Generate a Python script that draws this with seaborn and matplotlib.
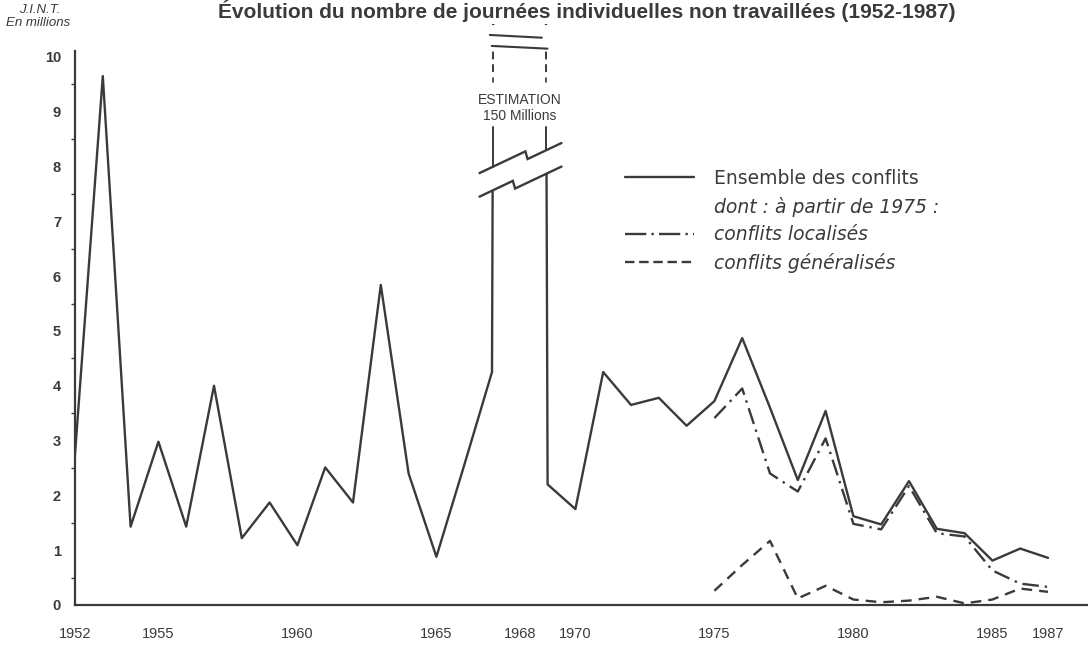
import numpy as np
import pandas as pd
import matplotlib
matplotlib.use("Agg")
import matplotlib.pyplot as plt
import seaborn as sns
from matplotlib.lines import Line2D
from matplotlib.patches import Polygon
from matplotlib.ticker import FixedLocator

# ---------------- data ----------------
years_total = list(range(1952, 1988))
ensemble = [2.75, 9.65, 1.43, 2.98, 1.43, 4.0, 1.22, 1.87, 1.09, 2.51, 1.87, 5.84,
            2.4, 0.88, 2.55, 4.25, 150.0, 2.2, 1.75, 4.25, 3.65, 3.78, 3.27, 3.72,
            4.87, 3.6, 2.28, 3.54, 1.62, 1.47, 2.26, 1.39, 1.31, 0.81, 1.03, 0.86]

years_detail = list(range(1975, 1988))
localises = [3.41, 3.95, 2.40, 2.07, 3.04, 1.48, 1.38, 2.17, 1.31, 1.25, 0.63, 0.39, 0.33]
generalises = [0.26, 0.73, 1.17, 0.12, 0.35, 0.10, 0.05, 0.08, 0.15, 0.03, 0.10, 0.30, 0.24]

xtick_years = [1952, 1955, 1960, 1965, 1968, 1970, 1975, 1980, 1985, 1987]
ytick_values = list(range(0, 11))

title = "Évolution du nombre de journées individuelles non travaillées (1952-1987)"
unit_lines = ["J.I.N.T.", "En millions"]
legend_labels = ["Ensemble des conflits", "dont : à partir de 1975 :",
                 "conflits localisés", "conflits généralisés"]
estimation_text = ["ESTIMATION", "150 Millions"]

# ---------------- style ----------------
sns.set_theme(style="white")
plt.rcParams["font.family"] = ["Liberation Sans", "DejaVu Sans"]
INK = "#3a3a36"
LW = 1.7
DASHDOT = (0, (7, 2.5, 1, 2.5))
DASHED = (0, (4.5, 3))

W, H = 1088, 651
fig = plt.figure(figsize=(W / 100, H / 100), dpi=100, facecolor="white")
left_px, bottom_px, top_px = 75, 605, 24
ax = fig.add_axes([left_px / W, (H - bottom_px) / H, 1 - left_px / W, (bottom_px - top_px) / H])
ax.set_facecolor("white")

px_per_year = 27.8
ax.set_xlim(1952, 1952 + (W - left_px) / px_per_year)
ax.set_ylim(0, 10.6)

sns.lineplot(x=years_total, y=ensemble, ax=ax, color=INK, lw=LW, zorder=2)
sns.lineplot(x=years_detail, y=localises, ax=ax, color=INK, lw=LW, linestyle=DASHDOT, zorder=2)
sns.lineplot(x=years_detail, y=generalises, ax=ax, color=INK, lw=LW, linestyle=DASHED, zorder=2)

# ---------------- axes ----------------
for s in ["top", "right"]:
    ax.spines[s].set_visible(False)
for s in ["left", "bottom"]:
    ax.spines[s].set_color(INK)
    ax.spines[s].set_linewidth(1.6)
ax.spines["left"].set_bounds(0, 10.1)

ax.set_xticks(xtick_years)
ax.set_xticklabels([str(y) for y in xtick_years], fontsize=10.5, color=INK)
ax.set_yticks(ytick_values)
ax.set_yticklabels([str(v) for v in ytick_values], fontsize=10.5, color=INK, fontweight="bold")
ax.yaxis.set_minor_locator(FixedLocator([v + 0.5 for v in ytick_values[:-1]]))
ax.tick_params(axis="x", direction="out", length=15, width=1.4, color=INK, pad=1)
ax.tick_params(axis="y", which="major", direction="out", length=7, width=1.4, color=INK, pad=3)
ax.tick_params(axis="y", which="minor", direction="out", length=3, width=1.0, color=INK, left=True)
ax.set_xlabel("")
ax.set_ylabel("")
ax.grid(False)

# ---------------- 1968 off-scale spike (broken axis decoration) ----------------
i68 = years_total.index(1968)
def _interp_x(y, p, q):
    (x0, y0), (x1, y1) = p, q
    return x0 + (y - y0) * (x1 - x0) / (y1 - y0)
p_prev = (years_total[i68 - 1], ensemble[i68 - 1])
p_peak = (years_total[i68], ensemble[i68])
p_next = (years_total[i68 + 1], ensemble[i68 + 1])
xl = lambda y: _interp_x(y, p_prev, p_peak)
xr = lambda y: _interp_x(y, p_peak, p_next)

xa, xb = 1966.55, 1969.5
slope = 0.24
def zig(y0, xn, drop=0.14):
    pts = [(xa, y0), (xn, y0 + slope * (xn - xa)), (xn + 0.08, y0 + slope * (xn - xa) - drop)]
    pts.append((xb, pts[-1][1] + slope * (xb - pts[-1][0])))
    return pts
lower = zig(7.45, 1967.75)
upper = zig(7.88, 1968.2)
band = Polygon(upper + lower[::-1], closed=True, facecolor="white", edgecolor="none", zorder=3)
ax.add_patch(band)
cover = Polygon(upper + [(xb, 10.58), (xa, 10.58)], closed=True, facecolor="white", edgecolor="none", zorder=3)
ax.add_patch(cover)
for pts in (lower, upper):
    ax.plot([p[0] for p in pts], [p[1] for p in pts], color=INK, lw=LW, zorder=4,
            solid_joinstyle="miter")

def y_on(pts, x):
    for (x0, y0), (x1, y1) in zip(pts[:-1], pts[1:]):
        if x0 <= x <= x1:
            return y0 + (y1 - y0) * (x - x0) / (x1 - x0)
    return pts[-1][1]

for fx in (xl, xr):
    xs = fx(8.6)
    ax.plot([xs, xs], [y_on(upper, xs), 8.72], color=INK, lw=1.4, zorder=4)
    ax.plot([xs, xs], [9.55, 9.62], color=INK, lw=1.2, zorder=4)
    ax.plot([xs, xs], [9.72, 10.16], color=INK, lw=1.4, linestyle=(0, (4, 2.5)), zorder=4)

xt = (xl(9.0) + xr(9.0)) / 2
ax.text(xt, 9.22, estimation_text[0], ha="center", va="center", fontsize=10,
        color=INK, zorder=5)
ax.text(xt, 8.92, estimation_text[1], ha="center", va="center", fontsize=10,
        color=INK, zorder=5)
ax.plot([xl(10.2) - 0.05, xr(10.2) + 0.05], [10.2, 10.15], color=INK, lw=1.5, zorder=4,
        clip_on=False)
ax.plot([xl(10.4) - 0.12, xr(10.4) - 0.15], [10.4, 10.35], color=INK, lw=1.5, zorder=4,
        clip_on=False)

# ---------------- legend ----------------
handles = [Line2D([], [], color=INK, lw=LW),
           Line2D([], [], color="none", lw=0),
           Line2D([], [], color=INK, lw=LW, linestyle=(0, (9, 2.2, 1, 2.2))),
           Line2D([], [], color=INK, lw=LW, linestyle=(0, (4, 2)))]
leg = ax.legend(handles, legend_labels, loc="upper left",
                bbox_to_anchor=(625 / W, 1 - 169 / H), bbox_transform=fig.transFigure,
                frameon=False, handlelength=3.7, handletextpad=1.05,
                labelspacing=0.46, borderpad=0, borderaxespad=0,
                prop={"family": ["DejaVu Sans"], "size": 13.5})
for i, t in enumerate(leg.get_texts()):
    t.set_color(INK)
    if i > 0:
        t.set_fontstyle("italic")

# ---------------- titles ----------------
fig.text(587 / W, 1 - 18 / H, title, ha="center", va="baseline", fontsize=15,
         fontweight="bold", color=INK)
fig.text(40 / W, 1 - 10 / H, unit_lines[0], ha="center", va="center", fontsize=9.5,
         style="italic", color=INK)
fig.text(38 / W, 1 - 23 / H, unit_lines[1], ha="center", va="center", fontsize=9.5,
         style="italic", color=INK)

fig.savefig("out.png", dpi=100, facecolor="white")
